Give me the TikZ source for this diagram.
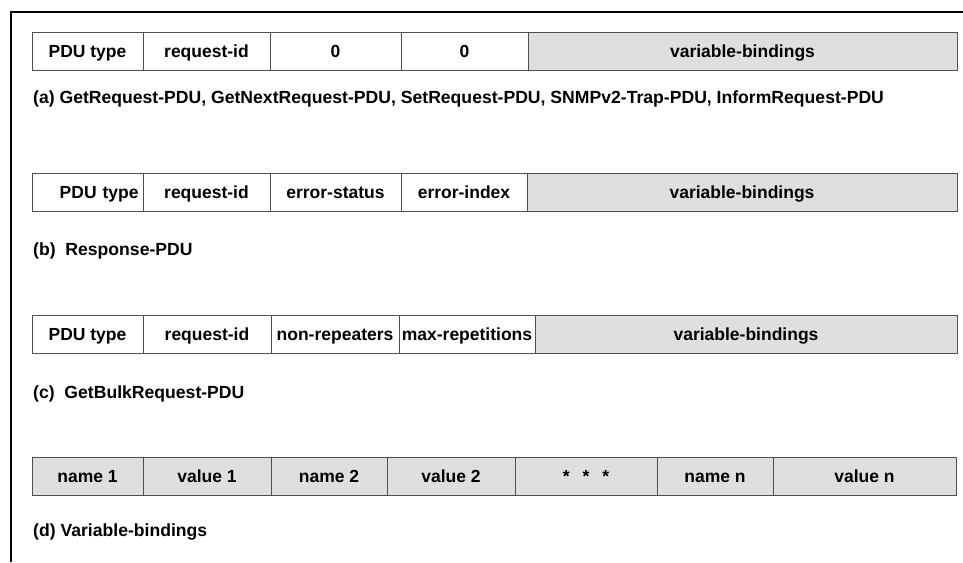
\documentclass[tikz,border=0pt]{standalone}
\usepackage{fontspec}
\setmainfont{Liberation Sans}
\usetikzlibrary{positioning}
\definecolor{cellgray}{HTML}{DFDFDF}
\definecolor{rulegray}{HTML}{505050}
\tikzset{
 cell/.style={draw=rulegray,line width=0.9pt,minimum height=38pt,inner sep=0pt,
             outer sep=0pt,anchor=north west,text height=16pt,text depth=3.5pt,
             font=\bfseries\fontsize{17.5}{20}\selectfont},
 vbcell/.style={cell,fill=cellgray},
 caption/.style={anchor=west,inner sep=0pt,font=\bfseries\fontsize{17.6}{20}\selectfont},
 frame/.style={line width=1.6pt,black}
}
\begin{document}
\begin{tikzpicture}[x=1pt,y=-1pt,node distance=0pt]
\useasboundingbox (0,0) rectangle (963,562);
\draw[frame] (11,562) |- (963,12);
% (a) get/set style PDUs
\node[cell,minimum width=111pt] (a1) at (32,32) {PDU type};
\node[cell,minimum width=127pt,right=of a1] (a2) {request-id};
\node[cell,minimum width=131pt,right=of a2] (a3) {0};
\node[cell,minimum width=127pt,right=of a3] (a4) {0};
\node[vbcell,minimum width=429pt,right=of a4] (a5) {variable-bindings};
\node[caption] (capa) at (33,99) {(a) GetRequest-PDU, GetNextRequest-PDU, SetRequest-PDU, SNMPv2-Trap-PDU, InformRequest-PDU};
% (b) response
\node[cell,minimum width=111pt,text width=102pt,align=right] (b1) at (32,173) {PDU type};
\node[cell,minimum width=127pt,right=of b1] (b2) {request-id};
\node[cell,minimum width=131pt,right=of b2] (b3) {error-status};
\node[cell,minimum width=126pt,right=of b3] (b4) {error-index};
\node[vbcell,minimum width=430pt,right=of b4] (b5) {variable-bindings};
\node[caption] (capb) at (33,251) {(b)~~Response-PDU};
% (c) getbulk
\node[cell,minimum width=111pt] (c1) at (32,315) {PDU type};
\node[cell,minimum width=128pt,right=of c1] (c2) {request-id};
\node[cell,minimum width=128pt,right=of c2] (c3) {non-repeaters};
\node[cell,minimum width=136pt,right=of c3] (c4) {max-repetitions};
\node[vbcell,minimum width=422pt,right=of c4] (c5) {variable-bindings};
\node[caption] (capc) at (33,394) {(c)~~GetBulkRequest-PDU};
% (d) bindings list
\node[vbcell,minimum width=111pt] (d1) at (32,457) {name 1};
\node[vbcell,minimum width=128pt,right=of d1] (d2) {value 1};
\node[vbcell,minimum width=116pt,right=of d2] (d3) {name 2};
\node[vbcell,minimum width=128pt,right=of d3] (d4) {value 2};
\node[vbcell,minimum width=142pt,right=of d4] (d5) {*\hspace{13pt}*\hspace{13pt}*};
\node[vbcell,minimum width=116pt,right=of d5] (d6) {name n};
\node[vbcell,minimum width=183pt,right=of d6] (d7) {value n};
\node[caption] (capd) at (33,532) {(d) Variable-bindings};
\end{tikzpicture}
\end{document}
